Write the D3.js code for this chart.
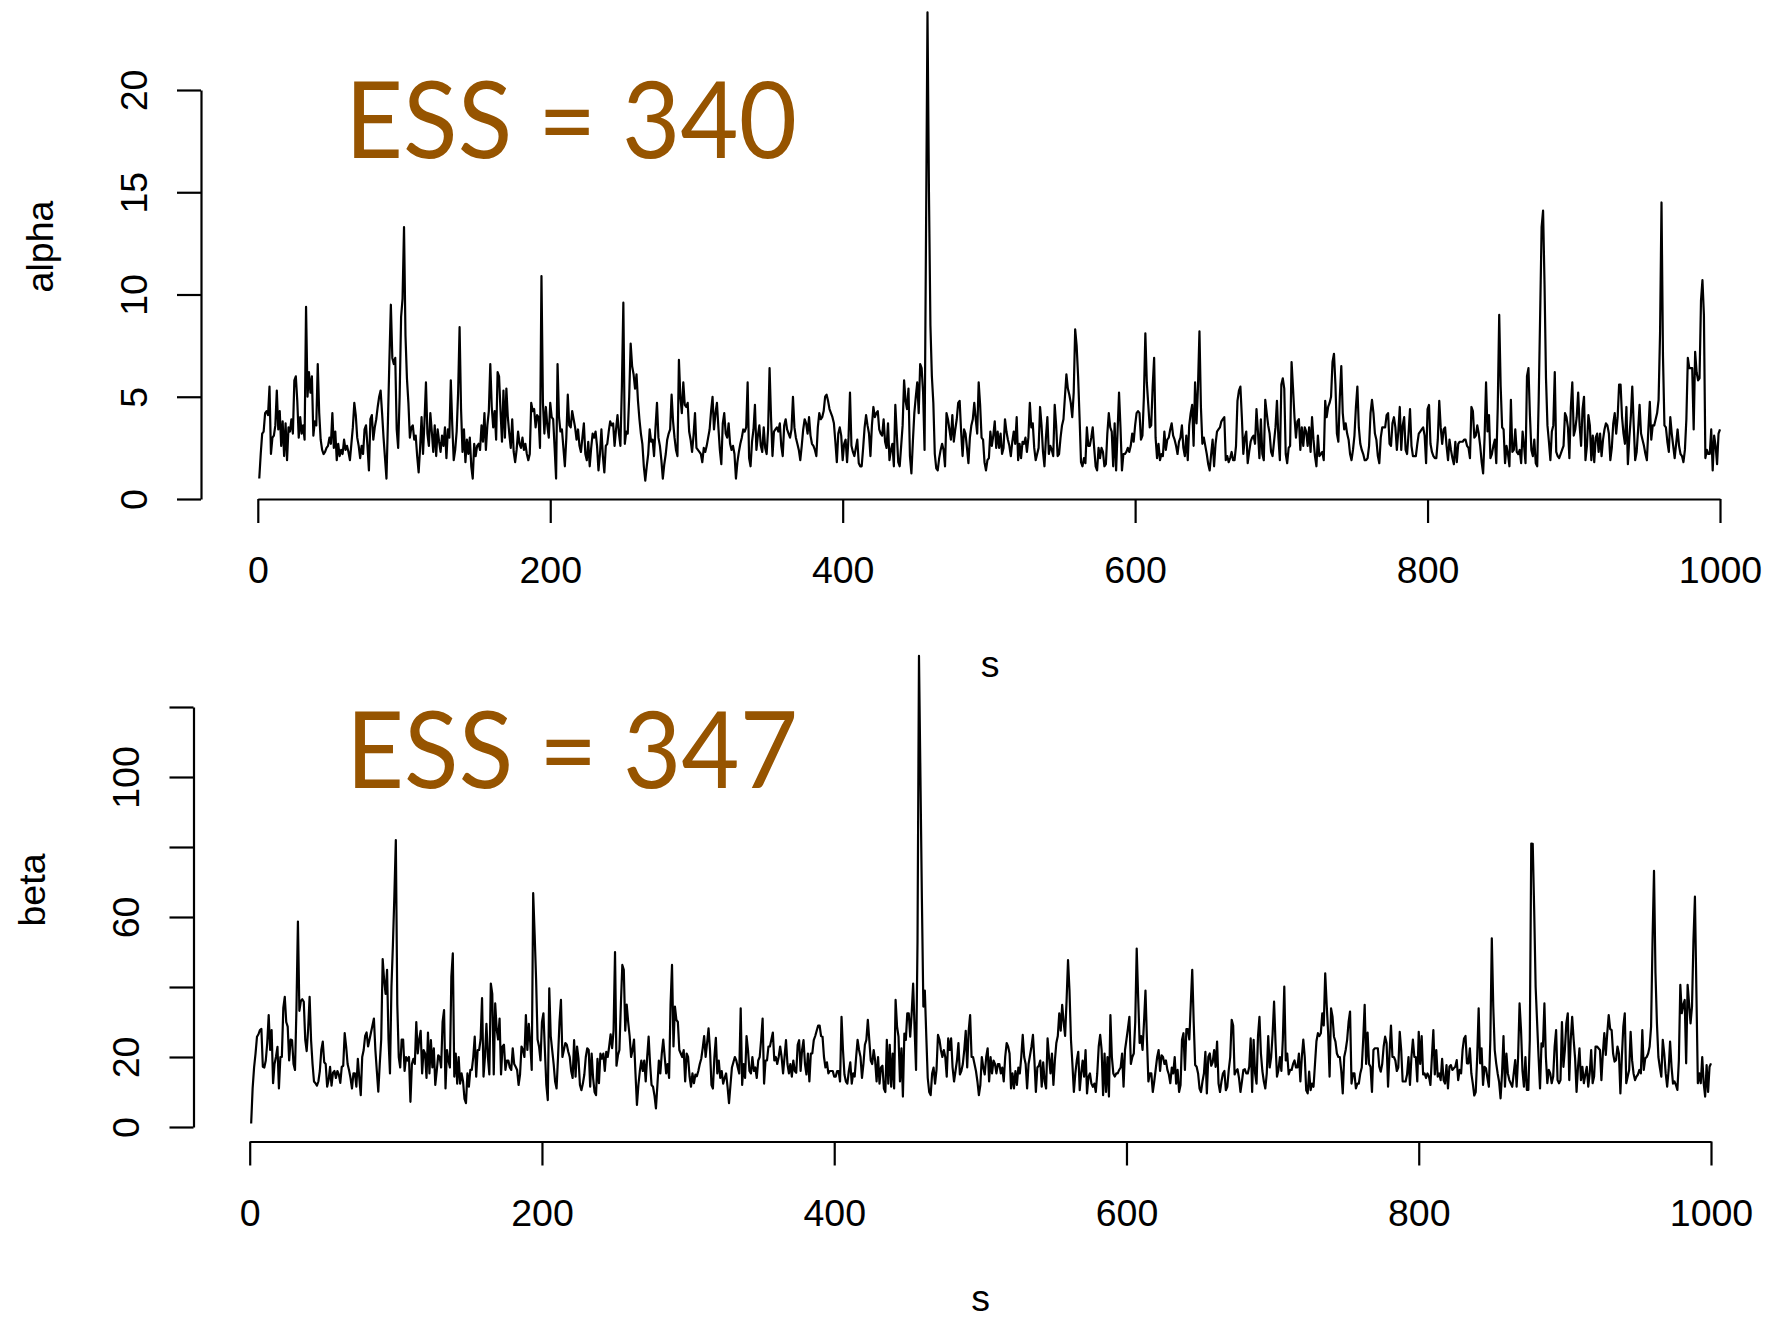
<!DOCTYPE html>
<html>
<head>
<meta charset="utf-8">
<script src="https://cdn.jsdelivr.net/npm/d3@7"></script>
<style>
  html, body { margin: 0; padding: 0; background: #fff; }
  svg { display: block; background: #fff; }
  .tick text, .lab { font-family: "Liberation Sans", Arial, Helvetica, sans-serif; font-size: 37.5px; fill: #000; }
  .ess { font-family: Lato, "Open Sans", sans-serif; fill: #965400; }
</style>
</head>
<body>
<div id="chart"></div>
<script>
// MCMC trace of alpha, iterations 1..1000 (in blocks of 200)
const alphaA = [
  1.0, 2.2, 3.2, 3.3, 4.2, 4.3, 4.1, 5.5, 2.2, 3.0,
  3.1, 3.6, 5.3, 3.4, 4.3, 2.6, 3.8, 2.1, 3.7, 1.9,
  3.5, 3.3, 3.9, 3.2, 5.8, 6.0, 4.8, 3.0, 4.0, 3.2,
  3.6, 2.9, 9.4, 5.0, 6.2, 5.2, 6.0, 3.1, 3.8, 3.6,
  6.6, 4.2, 2.9, 2.4, 2.2, 2.3, 2.5, 2.6, 3.0, 2.7,
  4.2, 2.5, 3.3, 1.9, 2.7, 2.1, 2.4, 2.2, 2.9, 2.4,
  2.6, 2.3, 1.9, 2.7, 3.5, 4.7, 4.1, 3.0, 2.6, 2.0,
  2.6, 2.2, 3.4, 3.6, 2.6, 1.4, 3.9, 4.1, 2.9, 3.5,
  3.9, 4.5, 5.0, 5.3, 4.2, 3.0, 2.0, 1.0, 3.8, 6.8,
  9.5, 6.9, 6.6, 6.9, 3.4, 2.5, 5.0, 8.9, 9.8, 13.3,
  8.0, 5.9, 4.7, 3.0, 3.5, 3.6, 2.9, 3.1, 2.1, 1.3,
  2.5, 4.0, 2.2, 3.8, 5.7, 3.2, 2.6, 4.2, 3.3, 2.3,
  3.6, 2.1, 3.4, 2.8, 2.3, 3.1, 2.6, 3.5, 2.0, 3.4,
  3.0, 5.8, 3.6, 1.9, 2.4, 3.3, 5.2, 8.4, 4.4, 2.3,
  3.4, 1.8, 2.9, 2.2, 3.0, 1.6, 1.0, 2.7, 2.1, 2.6,
  2.7, 2.4, 3.6, 2.8, 4.2, 2.4, 3.6, 4.3, 6.6, 4.5,
  3.5, 4.3, 2.9, 6.2, 6.0, 4.3, 2.8, 5.3, 3.0, 5.4,
  4.0, 3.2, 2.5, 3.9, 2.3, 1.8, 2.4, 3.3, 2.7, 2.5,
  3.0, 2.4, 2.7, 2.2, 1.9, 2.2, 4.7, 4.3, 4.4, 3.5,
  4.1, 4.0, 2.5, 10.9, 4.7, 3.2, 4.5, 3.6, 3.0, 4.7
];
const alphaB = [
  4.0, 3.9, 2.5, 1.0, 6.6, 4.0, 3.3, 3.4, 2.5, 1.6,
  3.0, 5.1, 3.6, 3.5, 4.3, 3.9, 3.5, 2.9, 3.4, 2.6,
  2.3, 3.0, 3.7, 2.2, 1.9, 2.8, 1.6, 2.5, 3.2, 3.0,
  3.3, 2.6, 1.4, 2.2, 3.4, 2.1, 1.3, 2.6, 2.7, 3.3,
  3.8, 3.6, 3.7, 2.6, 3.4, 4.1, 3.2, 2.6, 5.5, 9.6,
  2.7, 3.3, 3.2, 5.0, 7.6, 6.5, 6.1, 5.4, 6.1, 4.8,
  3.9, 3.2, 2.7, 1.6, 0.9, 1.6, 2.2, 3.4, 2.8, 2.9,
  2.1, 3.5, 4.7, 3.0, 2.6, 1.9, 1.0, 1.7, 2.2, 2.9,
  3.2, 3.4, 5.1, 3.8, 3.0, 2.4, 2.1, 6.8, 5.0, 4.2,
  5.7, 4.6, 4.5, 4.7, 3.3, 2.9, 2.3, 3.1, 4.2, 2.5,
  2.4, 2.3, 2.2, 1.8, 2.5, 2.3, 2.6, 3.0, 3.4, 4.3,
  5.0, 3.4, 4.2, 4.7, 3.5, 2.4, 1.7, 3.7, 4.2, 3.2,
  3.0, 3.7, 2.7, 2.4, 2.6, 2.2, 1.0, 1.8, 2.3, 2.7,
  3.0, 3.4, 3.3, 3.5, 5.7, 2.0, 1.6, 2.8, 3.4, 4.6,
  2.4, 3.1, 3.6, 2.6, 2.3, 3.5, 2.5, 2.2, 3.4, 6.4,
  4.0, 2.1, 3.3, 3.4, 3.5, 3.3, 3.7, 2.6, 2.1, 3.6,
  3.9, 3.4, 3.2, 3.0, 3.4, 5.0, 3.5, 3.0, 2.7, 2.4,
  1.9, 2.6, 3.4, 3.9, 3.7, 3.2, 4.0, 3.1, 2.7, 2.6,
  2.4, 2.1, 3.5, 4.2, 3.9, 4.0, 4.3, 5.0, 5.1, 4.8,
  4.4, 4.2, 4.0, 3.7, 2.8, 1.8, 3.2, 3.5, 3.1, 1.9
];
const alphaC = [
  2.7, 2.9, 1.8, 3.0, 5.2, 2.6, 2.3, 2.1, 2.5, 2.9,
  1.75, 1.6, 1.6, 2.5, 3.5, 4.1, 3.6, 3.2, 2.1, 3.6,
  4.5, 4.0, 4.2, 4.3, 3.4, 3.2, 3.1, 3.9, 2.8, 2.5,
  3.7, 1.9, 2.4, 2.7, 1.6, 4.6, 3.2, 1.8, 1.6, 2.6,
  3.6, 5.8, 4.8, 4.4, 5.4, 2.1, 1.25, 2.8, 4.2, 5.0,
  5.7, 4.2, 6.6, 6.4, 5.2, 2.4, 13.0, 23.8, 15.0, 8.5,
  6.0, 4.7, 2.2, 1.5, 1.4, 2.0, 2.4, 2.7, 2.4, 1.6,
  4.2, 3.9, 3.4, 2.9, 4.1, 2.8, 3.4, 3.9, 4.7, 4.8,
  3.3, 2.1, 3.4, 3.2, 2.5, 1.75, 3.0, 3.6, 3.9, 4.7,
  3.9, 3.2, 5.7, 4.6, 3.0, 2.9, 1.8, 1.4, 1.9, 2.0,
  3.3, 2.6, 3.1, 3.8, 2.5, 3.3, 2.5, 3.2, 2.2, 2.5,
  3.9, 3.3, 2.9, 2.6, 2.1, 2.8, 3.3, 2.7, 4.0, 1.9,
  2.7, 2.0, 2.8, 2.7, 3.0, 2.3, 3.0, 4.7, 3.5, 3.7,
  2.5, 1.9, 2.2, 2.5, 4.5, 3.6, 2.3, 1.6, 3.0, 4.0,
  2.2, 2.6, 2.4, 2.1, 4.6, 3.6, 2.1, 2.2, 3.0, 3.6,
  3.9, 5.0, 6.1, 5.4, 5.1, 4.7, 4.0, 5.2, 8.3, 7.5,
  6.0, 4.0, 1.8, 1.6, 2.0, 1.75, 3.5, 2.6, 2.6, 3.0,
  3.5, 2.5, 1.6, 1.4, 2.5, 2.0, 2.5, 2.3, 1.6, 1.7,
  3.2, 4.2, 3.5, 3.3, 1.6, 3.7, 1.4, 3.3, 5.2, 3.5,
  1.4, 2.2, 2.2, 2.3, 2.5, 2.3, 2.6, 3.2, 2.8, 3.6
];
const alphaD = [
  4.2, 4.3, 4.2, 2.9, 3.1, 5.0, 8.1, 5.7, 4.6, 3.5,
  3.6, 5.5, 6.9, 3.0, 2.0, 2.7, 1.9, 2.2, 2.1, 3.3,
  2.4, 2.9, 3.0, 3.4, 3.7, 3.1, 2.9, 2.6, 2.2, 2.8,
  3.0, 3.6, 2.5, 2.1, 3.1, 1.9, 3.6, 4.2, 4.6, 2.6,
  5.7, 3.7, 5.5, 8.2, 4.5, 2.7, 3.0, 2.6, 2.2, 1.7,
  1.4, 2.2, 2.9, 1.6, 2.7, 3.3, 3.4, 3.5, 3.8, 3.9,
  4.0, 1.9, 2.1, 1.8, 2.0, 2.3, 1.9, 1.9, 2.6, 4.8,
  5.3, 5.5, 4.0, 2.2, 3.0, 3.3, 1.75, 2.3, 2.8, 3.0,
  3.1, 2.7, 4.4, 3.3, 2.0, 3.9, 2.2, 1.9, 4.85, 4.2,
  3.6, 3.2, 2.3, 2.1, 2.8, 3.5, 4.8, 3.0, 1.9, 5.6,
  5.9, 5.4, 2.2, 1.75, 2.5, 2.6, 6.7, 5.4, 4.0, 3.0,
  3.8, 3.9, 2.4, 3.5, 2.6, 3.5, 3.3, 2.6, 3.5, 2.3,
  4.0, 2.9, 2.1, 1.6, 3.1, 2.1, 2.2, 2.3, 1.9, 4.8,
  4.0, 4.5, 4.7, 5.0, 6.7, 7.1, 5.6, 3.2, 2.8, 5.0,
  6.5, 4.2, 3.4, 3.7, 3.2, 2.9, 2.2, 1.9, 2.4, 3.1,
  4.5, 5.5, 3.5, 2.7, 2.4, 2.2, 1.9, 1.9, 2.0, 2.6,
  4.2, 4.85, 4.2, 3.2, 2.9, 2.1, 1.75, 3.0, 3.5, 3.5,
  3.5, 4.1, 4.2, 2.7, 2.6, 3.7, 4.0, 3.5, 2.4, 3.3,
  4.5, 2.4, 3.6, 4.0, 2.4, 2.2, 3.2, 4.4, 2.6, 2.1,
  2.1, 2.1, 2.7, 3.2, 3.3, 3.4, 3.5, 3.1, 1.75, 4.4
];
const alphaE = [
  4.6, 2.7, 2.3, 2.1, 2.0, 2.0, 2.9, 4.8, 3.5, 2.7,
  3.4, 3.5, 2.6, 1.9, 2.9, 2.4, 2.0, 1.7, 2.8, 1.8,
  2.7, 2.8, 2.8, 2.8, 2.9, 2.9, 2.6, 2.5, 2.0, 4.5,
  4.3, 3.0, 3.1, 3.6, 3.2, 2.6, 1.8, 1.25, 3.0, 5.7,
  3.3, 4.1, 2.0, 2.2, 2.6, 2.9, 1.75, 4.5, 9.0, 5.5,
  3.5, 3.4, 1.75, 2.6, 2.2, 1.6, 4.85, 2.3, 2.4, 3.4,
  2.3, 2.2, 2.4, 1.75, 3.3, 2.6, 1.75, 6.0, 6.4, 4.1,
  2.4, 2.1, 2.9, 1.75, 1.6, 4.85, 9.0, 13.3, 14.1, 10.5,
  5.9, 3.6, 2.8, 1.9, 3.3, 3.6, 6.2, 2.3, 2.1, 2.0,
  2.2, 2.4, 2.6, 4.2, 4.0, 3.5, 2.0, 4.5, 5.7, 3.1,
  3.4, 4.0, 5.2, 3.6, 2.6, 4.4, 5.0, 1.9, 2.6, 4.1,
  3.6, 1.9, 3.1, 1.8, 3.0, 3.2, 2.3, 3.2, 2.1, 2.9,
  3.4, 3.7, 3.6, 3.2, 1.9, 2.5, 3.7, 4.2, 3.2, 4.0,
  5.6, 5.6, 4.0, 3.2, 2.7, 4.5, 1.7, 3.0, 4.0, 5.5,
  3.6, 1.9, 2.3, 3.4, 4.6, 3.2, 2.9, 2.6, 2.2, 1.9,
  3.4, 4.75, 2.9, 3.6, 3.6, 3.9, 4.2, 4.85, 8.1, 14.5,
  7.0, 3.6, 3.5, 2.8, 2.3, 4.0, 3.2, 2.6, 2.0, 2.7,
  3.4, 2.6, 2.2, 2.1, 1.8, 2.4, 3.9, 6.9, 6.4, 6.4,
  6.4, 3.4, 7.2, 6.2, 5.8, 5.9, 9.7, 10.7, 9.0, 2.0,
  2.4, 2.2, 2.2, 3.4, 1.4, 3.1, 2.6, 1.7, 3.2, 3.4
];

// MCMC trace of beta, iterations 1..1000
const betaA = [
  1.0, 11, 17, 21, 25.8, 26.5, 27.7, 28, 17.2, 17,
  19, 24, 32, 22, 27.7, 12.5, 18, 20.1, 22.9, 11,
  20, 20, 34, 37.2, 30, 28.7, 19, 25, 24.8, 18,
  16.3, 34, 58.7, 33.2, 36, 36.5, 35.8, 25, 21.7, 28,
  37.2, 24.8, 18, 13, 12.5, 11.8, 13, 16, 22, 24.4,
  18.5, 18, 11.5, 13.4, 17.2, 11.8, 15.5, 16, 14, 16,
  15, 12.6, 17.2, 17.5, 26.8, 23, 18, 16.2, 14, 11,
  15.3, 15.3, 11.5, 19.5, 14, 9.1, 20, 22, 26, 27,
  23, 25, 27, 29, 31, 22, 16, 10.1, 18, 25,
  48, 42, 38, 44.9, 25, 15.3, 40, 52, 66, 82,
  35, 20, 17, 25, 25, 16, 20, 19, 20, 7.2,
  18, 19.5, 18, 30, 21, 25, 27.5, 15.3, 22, 21,
  14, 27, 15.3, 24.8, 17, 22.5, 12, 16, 20.5, 20,
  17, 30, 33.4, 11, 22, 19, 17, 43, 49.6, 14.4,
  21, 12.4, 20, 12.4, 15.3, 13, 8, 6.8, 15.3, 11.5,
  16.3, 16.3, 20, 25.8, 14.4, 22, 22, 25, 36.8, 14.4,
  20, 29.5, 20, 15, 41, 38, 15, 35.3, 28, 25,
  31, 15, 23, 23.5, 16.3, 19, 19, 17, 16.3, 22.5,
  18, 17.2, 16.3, 12, 15, 23, 22, 20, 32, 22,
  29.5, 24, 16.3, 66.8, 55, 42, 25, 23, 19, 30
];
const betaB = [
  32.5, 22, 12, 7.7, 39.6, 26, 22, 18, 13, 11,
  20, 30, 36.3, 20, 22, 24, 23.5, 21.5, 20, 16,
  14, 24.8, 14.4, 23, 19.5, 12, 10.5, 12.4, 15, 20,
  22.5, 22, 11.5, 21, 14, 10, 9.1, 19.5, 12.5, 21,
  19.5, 21, 16, 21.5, 20, 23, 26.5, 22.5, 27.5, 50,
  17.5, 20.5, 22, 35, 46.3, 44.9, 27.5, 35, 30, 26,
  20, 22, 25, 15.3, 6.3, 12, 16, 19, 16, 19,
  13, 20, 25.8, 18, 12, 11.5, 9, 5.3, 12, 19,
  15.3, 21, 25, 20, 15.3, 18, 14, 35, 46.3, 23,
  34.4, 30.6, 30, 22, 21, 20, 22, 13, 21, 20,
  14.5, 11.5, 15.3, 12.5, 15, 14.5, 16, 18, 19.5, 22.5,
  26, 20, 24, 28.2, 22, 12, 11, 20, 25.5, 15.3,
  19, 14, 16, 12.4, 14, 15.3, 11.5, 6.8, 12, 17,
  18.5, 20, 19, 17, 15.3, 33.9, 12, 18, 14, 26,
  22, 16, 15.3, 20, 16, 17, 14, 19, 20, 25,
  31, 12.4, 19, 19, 23, 23, 25, 27, 19, 20,
  18, 20, 23, 20, 15.3, 20, 24.8, 18, 15.3, 18,
  14.4, 19, 16, 15.5, 23.5, 24.8, 16, 22, 24.8, 18,
  15, 21, 13, 21, 21, 24.8, 26, 27.5, 29, 29,
  26, 25.8, 20, 17, 18.5, 15.3, 16, 16, 16, 14.4
];
const betaC = [
  14.4, 16, 16, 13, 31.5, 22, 15, 13, 12.4, 16,
  18.5, 12.4, 15.3, 14.4, 20, 24.9, 22, 20, 14, 18,
  23.5, 24.9, 30.6, 24.9, 19, 18, 22, 19, 13, 20,
  12.4, 17, 17.5, 11, 10, 24.9, 12.4, 23.5, 11.5, 21,
  11, 36.3, 28.7, 25.8, 13, 22.5, 8.7, 26.7, 24.9, 32.5,
  32.5, 25.8, 32.5, 41, 28, 16.3, 53, 134.6, 100, 65,
  34.4, 39, 26, 14, 10, 9.1, 15.3, 17, 12.4, 16.3,
  26.3, 25, 22, 20, 22, 20, 14.4, 25.3, 22, 25.3,
  17, 13, 16, 19, 24, 15, 16, 18, 22, 27.5,
  17, 27.5, 32, 20, 20, 18, 16, 13, 9.1, 12,
  20, 17, 15, 20, 22.5, 13, 20, 15.3, 19, 18,
  15.3, 18, 18, 15.3, 17, 13, 20, 24, 23, 21,
  11, 15.3, 11, 16, 12, 17, 15.3, 20, 26.3, 20,
  18, 11, 18, 20.5, 23, 26.3, 19, 10, 17, 17.5,
  19, 11.5, 18.5, 13, 11, 25.3, 20, 15.3, 21, 12,
  19, 24, 26, 32.5, 27.5, 34.9, 30, 26, 36, 47.7,
  39, 25, 18, 10, 15.3, 19, 21.5, 10.5, 15.3, 19,
  14.4, 22, 9.6, 14.4, 15.3, 12.4, 11.5, 12.4, 10, 15.3,
  23, 26.3, 22, 9.1, 21, 10, 20, 8.7, 32, 20,
  15.3, 14.4, 15.3, 15.3, 16.3, 17, 21, 11.5, 22, 25
];
const betaD = [
  28.2, 31.5, 18, 20, 21, 30, 51, 37, 24, 26,
  22, 30, 39, 25, 13, 15.3, 15.3, 10, 13, 16.5,
  20, 22, 16, 20.5, 20, 18, 19, 16.3, 15, 12.5,
  17, 15.3, 20, 12.4, 16.3, 10, 12, 24.9, 26.8, 16.3,
  28, 28, 25, 35, 44.9, 30, 17.7, 17.2, 15.3, 11,
  10, 13, 15.3, 21.5, 9.6, 20, 21, 17.5, 18.5, 22,
  17.2, 24.4, 12.4, 10, 13, 15.3, 16, 10.5, 11.5, 16.3,
  20, 30.6, 29, 15, 16, 16.5, 14, 10, 13, 16.3,
  16.5, 15.3, 15.3, 17.2, 25.3, 10, 24.9, 15.3, 12.4, 26,
  31.5, 21, 16, 13, 11, 15.3, 26, 17, 20, 26.5,
  35.8, 24, 14.4, 16.3, 20, 16, 25, 40.1, 19, 21,
  15, 16.3, 16.3, 18, 19, 17, 17, 21, 13, 20,
  25, 20, 10.5, 9.6, 15.8, 10.5, 12.4, 11.5, 18, 24.5,
  26.8, 26, 26.8, 32.5, 29, 43.9, 35, 27, 14.4, 33.9,
  31.5, 25.8, 24.4, 21, 20, 20, 16, 9.6, 20, 22,
  24.9, 30, 33, 12.4, 15.3, 15.3, 11, 12.4, 12.4, 15.3,
  17, 25, 34.9, 18, 27, 18, 17.2, 10, 22, 22.5,
  22.5, 22.5, 17.2, 15.8, 18, 23, 25.8, 24, 11.5, 21,
  29, 20, 20, 19, 16, 17, 27.2, 22, 13, 13,
  13, 15, 20, 12, 20, 25, 20, 20, 13, 27.2
];
const betaE = [
  18, 26, 15, 15.3, 14, 15.3, 14.4, 12, 20, 27.7,
  15, 22, 14.4, 15.3, 13.4, 19.5, 13.4, 12.4, 17.7, 11,
  17.2, 17.7, 16.3, 16.8, 17.2, 19.1, 13.4, 16.3, 15.3, 22,
  25.3, 26, 18.2, 18.2, 22.5, 15.3, 12.4, 9, 10, 20,
  33.9, 18.2, 22.5, 12, 17.2, 16.8, 14, 11.5, 25, 53.9,
  34.4, 22, 18.2, 15.3, 12.9, 8.2, 15.3, 26, 11.5, 21,
  15.3, 13.4, 12.4, 11.5, 15.3, 19.1, 11.5, 20, 35.3, 27.7,
  16, 11.5, 20, 10.6, 10.6, 24.9, 81, 80.9, 62, 40,
  30, 20, 11, 23.9, 23, 35.3, 20, 12.5, 16.3, 15.3,
  12.5, 14.4, 23, 27.7, 13.4, 12.5, 13.4, 30, 17.2, 22,
  29.6, 32.5, 13.4, 24.9, 31.5, 25, 19.6, 10, 17.2, 22.5,
  13.4, 17.2, 12.5, 15, 17.2, 11.5, 15.3, 22, 12.5, 14.4,
  23, 23, 22.5, 22, 13.4, 21, 26.8, 20.6, 26.8, 32,
  28, 27.7, 21, 18.7, 19.1, 23, 21, 9.6, 20, 28.7,
  32.5, 12.5, 14.4, 16.3, 27.2, 19.1, 15.3, 13.4, 14.4, 15,
  16.3, 15.3, 27.7, 16.3, 19.6, 20, 21, 23, 28.7, 53.4,
  73.2, 44, 29.6, 20, 17, 14.4, 24.9, 21, 15.3, 11.5,
  16.3, 24.4, 17.2, 12.4, 13, 12, 10.6, 19, 40.6, 32.5,
  34.9, 36.3, 18.2, 40.6, 35.3, 29.6, 34.4, 53.4, 65.8, 39,
  12.5, 15.3, 12.5, 20, 12.5, 8.7, 17.7, 10, 17.2, 18.2
];

const iterTicks = [0, 200, 400, 600, 800, 1000];
const alphaTicks = [0, 5, 10, 15, 20];
const betaTicks = [0, 20, 40, 60, 80, 100, 120];
const betaTickLabels = ["0", "20", "", "60", "", "100", ""];
const essLabels = ["ESS = 340", "ESS = 347"];
const yNames = ["alpha", "beta"];
const xName = "s";

const alpha = [].concat(alphaA, alphaB, alphaC, alphaD, alphaE);
const beta = [].concat(betaA, betaB, betaC, betaD, betaE);

const width = 1790, height = 1319;
const lw = 2.2;

const svg = d3.select("#chart").append("svg")
    .attr("width", width)
    .attr("height", height);

// layout of the two stacked panels (pixel positions measured on the picture)
const panels = [
    {
        values: alpha, ticks: alphaTicks, tickLabels: alphaTicks.map(String),
        yMax: 20, left: 257.8, right: 1720, bottom: 499, top: 90,
        yAxisX: 201, xAxisY: 499,
        yName: yNames[0], yNameX: 52.5, yNameY: 246.5,
        xNameX: 990, xNameY: 677,
        ess: essLabels[0], essX: 345, essY: 158.3
    },
    {
        values: beta, ticks: betaTicks, tickLabels: betaTickLabels,
        yMax: 120, left: 249.7, right: 1711, bottom: 1127, top: 707,
        yAxisX: 193.5, xAxisY: 1141.5,
        yName: yNames[1], yNameX: 45, yNameY: 890,
        xNameX: 980.5, xNameY: 1311,
        ess: essLabels[1], essX: 346, essY: 788.3
    }
];

function drawPanel(p) {
    const x = d3.scaleLinear().domain([0, 1000]).range([p.left, p.right]);
    const y = d3.scaleLinear().domain([0, p.yMax]).range([p.bottom, p.top]);

    const line = d3.line()
        .x((d, i) => x(i + 1))
        .y(d => y(d));

    svg.append("path")
        .datum(p.values)
        .attr("fill", "none")
        .attr("stroke", "#000")
        .attr("stroke-width", lw)
        .attr("stroke-linejoin", "round")
        .attr("d", line);

    // x axis (R style: line from first to last tick, ticks outward)
    const gx = svg.append("g")
        .attr("transform", `translate(0,${p.xAxisY})`)
        .call(d3.axisBottom(x).tickValues(iterTicks).tickSize(24).tickSizeOuter(0)
            .tickFormat(d => String(d)));
    gx.selectAll("text").attr("y", 84).attr("dy", null);

    // y axis with labels parallel to the axis
    const labelFor = {};
    p.ticks.forEach((t, i) => labelFor[t] = p.tickLabels[i]);
    const gy = svg.append("g")
        .attr("transform", `translate(${p.yAxisX},0)`)
        .call(d3.axisLeft(y).tickValues(p.ticks).tickSize(24).tickSizeOuter(0)
            .tickFormat(d => labelFor[d]));
    gy.selectAll("text")
        .attr("x", 0)
        .attr("y", -54.5)
        .attr("dy", null)
        .attr("transform", "rotate(-90)")
        .attr("text-anchor", "middle");

    [gx, gy].forEach(g => {
        g.select(".domain").attr("stroke-width", lw).attr("stroke", "#000");
        g.selectAll(".tick line").attr("stroke-width", lw).attr("stroke", "#000");
    });

    svg.append("text")
        .attr("class", "lab")
        .attr("transform", `translate(${p.yNameX},${p.yNameY}) rotate(-90)`)
        .attr("text-anchor", "middle")
        .text(p.yName);

    svg.append("text")
        .attr("class", "lab")
        .attr("x", p.xNameX)
        .attr("y", p.xNameY)
        .attr("text-anchor", "middle")
        .text(xName);

    svg.append("text")
        .attr("class", "ess")
        .attr("x", p.essX)
        .attr("y", p.essY)
        .attr("font-size", 107)
        .attr("textLength", 452)
        .attr("lengthAdjust", "spacingAndGlyphs")
        .text(p.ess);
}

panels.forEach(drawPanel);
</script>
</body>
</html>
